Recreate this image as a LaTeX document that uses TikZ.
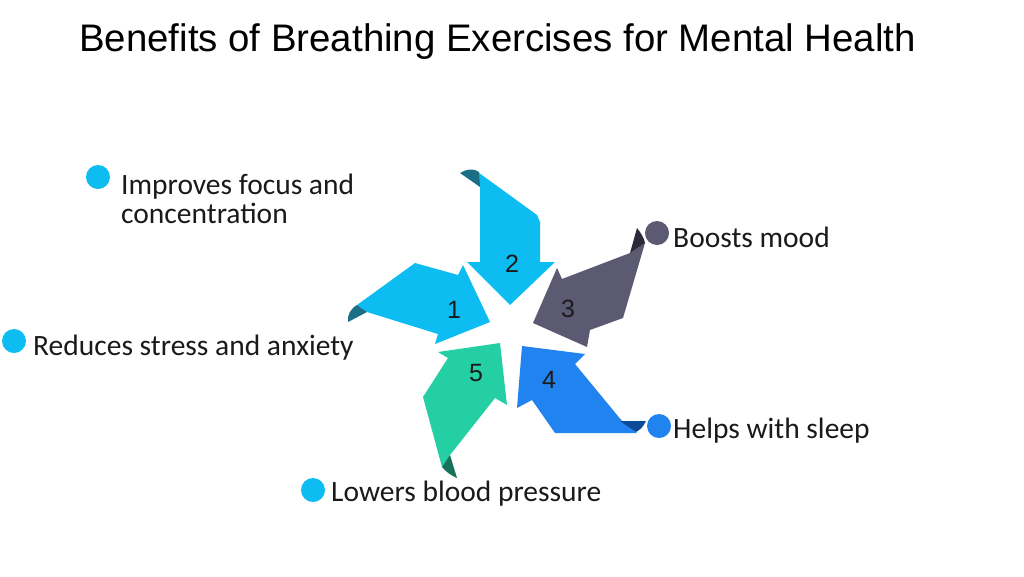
\documentclass[tikz,border=0pt]{standalone}
\usepackage{fontspec}
\setmainfont{Liberation Sans}
\newfontfamily\labelfont{Carlito}
\definecolor{cLight}{HTML}{0DBDF2}
\definecolor{cLightFold}{HTML}{1A6E86}
\definecolor{cSlate}{HTML}{5C5A73}
\definecolor{cSlateFold}{HTML}{2B2A3A}
\definecolor{cBlue}{HTML}{2183F0}
\definecolor{cBlueFold}{HTML}{0E4A9A}
\definecolor{cTeal}{HTML}{24CFA3}
\definecolor{cTealFold}{HTML}{167258}
\definecolor{cText}{HTML}{1A1A1A}
\begin{document}
\begin{tikzpicture}[x=1pt,y=-1pt,
  lbl/.style={font=\labelfont\fontsize{29.5}{29}\selectfont, anchor=base west, inner sep=0pt, text=cText},
  bullet/.style={circle, inner sep=0pt, minimum size=24pt},
  num/.style={font=\fontsize{25}{25}\selectfont, inner sep=0pt, text=cText},
  titlestyle/.style={font=\fontsize{38.4}{42}\selectfont, anchor=base, inner sep=0pt, text=black}
]
\useasboundingbox (0,0) rectangle (1024,576);
\fill[white] (0,0) rectangle (1024,576);

\node[titlestyle] (title) at (497.5,51) {Benefits of Breathing Exercises for Mental Health};

% arrow 1
\fill[cLight] (357,305) -- (415,263) -- (458,275) -- (463,265) -- (490,322) -- (435,344) -- (438,334) -- (367,312) -- cycle;
\fill[cLightFold] (357,305) .. controls (350,309) and (347,316) .. (348,322) -- (367,312) -- cycle;
% arrow 2
\fill[cLight] (475,170) -- (537,215) -- (540,222) -- (540,262) -- (555,262) -- (510,305) -- (467,262) -- (480,262) -- (480,187) -- cycle;
\fill[cLightFold] (460,173) .. controls (466,169) and (474,168) .. (479,172) -- (480,187) -- cycle;
% arrow 3
\fill[cSlate] (533,323) -- (557,268) -- (562,279) -- (630,253) -- (645,243) -- (623,318) -- (590,330) -- (587,347) -- cycle;
\fill[cSlateFold] (630,253) -- (637,228) .. controls (641,233) and (644,238) .. (645,243) -- cycle;
% arrow 4
\fill[cBlue] (522,346) -- (585,354) -- (575,364) -- (622,421) -- (637,433) -- (555,433) -- (532,400) -- (517,408) -- cycle;
\fill[cBlueFold] (620,421) -- (646,421) .. controls (643,427) and (640,430) .. (636,432) -- cycle;
% arrow 5
\fill[cTeal] (500,343) -- (507,405) -- (495,398) -- (450,455) -- (442,467) -- (423,397) -- (448,358) -- (438,352) -- cycle;
\fill[cTealFold] (442,467) -- (450,455) -- (457,478) .. controls (452,476) and (446,472) .. (442,467) -- cycle;

% numbers
\node[num] (n1) at (454,310) {1};
\node[num] (n2) at (512,264) {2};
\node[num] (n3) at (568,309) {3};
\node[num] (n4) at (549,380) {4};
\node[num] (n5) at (476,373) {5};

% bullets and labels
\node[bullet, fill=cLight] (b1) at (98,177) {};
\node[lbl, anchor=north west, align=left] (l1) at (121,174) {Improves focus and\\concentration};
\node[bullet, fill=cLight] (b2) at (14,341) {};
\node[lbl] (l2) at (33,355) {Reduces stress and anxiety};
\node[bullet, fill=cLight] (b3) at (313,490) {};
\node[lbl] (l3) at (331,501) {Lowers blood pressure};
\node[bullet, fill=cSlate] (b4) at (657,233) {};
\node[lbl] (l4) at (673,247) {Boosts mood};
\node[bullet, fill=cBlue] (b5) at (659,426) {};
\node[lbl] (l5) at (673,438) {Helps with sleep};
\end{tikzpicture}
\end{document}
